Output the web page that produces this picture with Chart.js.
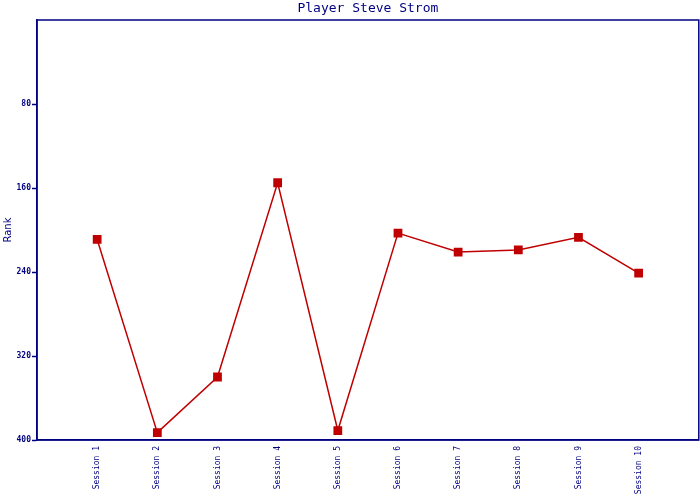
<!DOCTYPE html>
<html>
<head>
<meta charset="utf-8">
<script src="https://cdn.jsdelivr.net/npm/chart.js@4"></script>
<style>
  html, body { margin: 0; padding: 0; background: #fff; overflow: hidden; }
  /* a few px wider than the window: the points' overflow padding falls off-screen */
  #wrap { width: 705px; height: 500px; }
</style>
</head>
<body>
<div id="wrap"><canvas id="rank"></canvas></div>
<script>
// sessions along x, rank on a reversed y axis
const sessions = ['Session 1', 'Session 2', 'Session 3', 'Session 4', 'Session 5',
  'Session 6', 'Session 7', 'Session 8', 'Session 9', 'Session 10'];
const ranks = [209, 393, 340, 155, 391, 203, 221, 219, 207, 241];
const rankTicks = [0, 80, 160, 240, 320, 400];

const NAVY = '#000080';
const RED = '#c00000';

// frame round the plot + title centred over the plot area
const frame = {
  id: 'frame',
  afterDraw(chart) {
    const { ctx, chartArea: a } = chart;
    ctx.save();
    ctx.strokeStyle = NAVY;
    ctx.lineWidth = 1.5;
    ctx.strokeRect(a.left, a.top, a.right - a.left, a.bottom - a.top);
    ctx.fillStyle = NAVY;
    ctx.font = '13px "DejaVu Sans Mono"';
    ctx.textAlign = 'center';
    ctx.textBaseline = 'middle';
    ctx.fillText('Player Steve Strom', (a.left + a.right) / 2, 9);
    ctx.restore();
  }
};

new Chart(document.getElementById('rank'), {
  type: 'line',
  data: {
    datasets: [{
      data: ranks.map((r, i) => ({ x: i + 1, y: r })),
      borderColor: RED,
      borderWidth: 1.5,
      backgroundColor: RED,
      pointStyle: 'rect',
      pointRadius: 6.2,
      pointBorderWidth: 0,
      tension: 0
    }]
  },
  options: {
    responsive: true,
    maintainAspectRatio: false,
    animation: false,
    layout: { padding: { top: 20, right: 0, left: 0, bottom: 0 } },
    plugins: { legend: { display: false }, tooltip: { enabled: false }, title: { display: false } },
    scales: {
      x: {
        type: 'linear',
        min: 0,
        max: sessions.length + 1,
        afterBuildTicks(scale) {
          scale.ticks = sessions.map((s, i) => ({ value: i + 1 }));
        },
        afterFit(scale) {
          scale.height = 60;
          scale.paddingLeft = 0;
          scale.paddingRight = 0;
        },
        grid: { display: false, drawTicks: false },
        border: { color: NAVY, width: 1.5 },
        ticks: {
          minRotation: 90,
          maxRotation: 90,
          autoSkip: false,
          padding: 6,
          color: NAVY,
          font: { family: 'DejaVu Sans Mono', size: 8 },
          callback: v => sessions[v - 1] || ''
        }
      },
      y: {
        reverse: true,
        min: 0,
        max: 400,
        afterBuildTicks(scale) {
          scale.ticks = rankTicks.map(v => ({ value: v }));
        },
        afterFit(scale) {
          scale.width = 37;
          scale.paddingTop = 0;
          scale.paddingBottom = 0;
        },
        title: {
          display: true,
          text: 'Rank',
          color: NAVY,
          padding: { top: 2, bottom: 0 },
          font: { family: 'DejaVu Sans', size: 10 }
        },
        grid: {
          drawOnChartArea: false,
          tickLength: 5,
          tickWidth: 1.5,
          // no stub at the top corner
          tickColor: c => (c.tick && c.tick.value === 0) ? 'rgba(0,0,0,0)' : NAVY
        },
        border: { color: NAVY, width: 1.5 },
        ticks: {
          padding: 1,
          color: NAVY,
          font: { family: 'DejaVu Sans Mono', size: 8, weight: 'bold' },
          callback: v => v === 0 ? '' : v
        }
      }
    }
  },
  plugins: [frame]
});
</script>
</body>
</html>
